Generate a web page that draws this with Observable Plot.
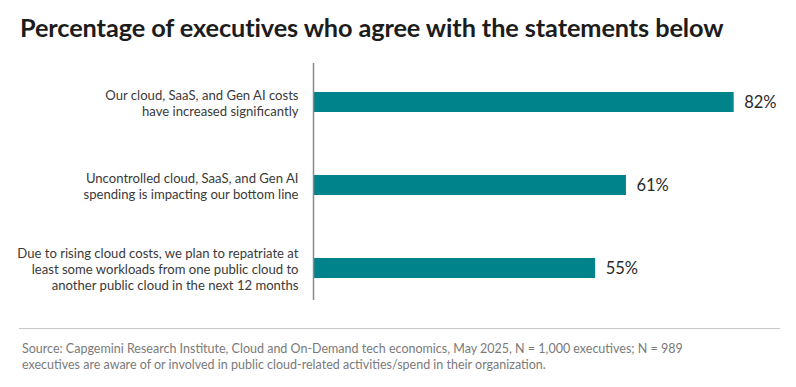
<!DOCTYPE html>
<html>
<head>
<meta charset="utf-8">
<script src="https://cdn.jsdelivr.net/npm/d3@7"></script>
<script src="https://cdn.jsdelivr.net/npm/@observablehq/plot@0.6"></script>
<style>
  html, body { margin: 0; padding: 0; background: #fff; }
  body { width: 796px; height: 387px; position: relative; overflow: hidden; font-family: Lato, "Open Sans", sans-serif; }
  #title { position: absolute; left: 20px; top: 15px; font-size: 25.3px; line-height: 24px; font-weight: 700; color: #1c1c1c; white-space: nowrap; letter-spacing: -0.1px; }
  #chart { position: absolute; left: 0; top: 50px; }
  #rule { position: absolute; left: 19px; top: 328px; width: 761px; height: 0; border-top: 1.5px solid #c9c9c9; }
  #source { position: absolute; left: 22px; top: 341px; font-size: 12.5px; line-height: 16px; color: #7a7a7a; white-space: nowrap; }
</style>
</head>
<body>
<div id="title">Percentage of executives who agree with the statements below</div>
<div id="chart"></div>
<div id="rule"></div>
<div id="source">Source: Capgemini Research Institute, Cloud and On-Demand tech economics, May 2025, N = 1,000 executives; N = 989<br>executives are aware of or involved in public cloud-related activities/spend in their organization.</div>
<script>
const statements = [
  "Our cloud, SaaS, and Gen AI costs\nhave increased significantly",
  "Uncontrolled cloud, SaaS, and Gen AI\nspending is impacting our bottom line",
  "Due to rising cloud costs, we plan to repatriate at\nleast some workloads from one public cloud to\nanother public cloud in the next 12 months"
];
const values = [82, 61, 55];
const valueLabels = ["82%", "61%", "55%"];

const data = statements.map((s, i) => ({statement: s, value: values[i], label: valueLabels[i]}));

const chart = Plot.plot({
  width: 796,
  height: 260,
  marginLeft: 313,
  marginRight: 0,
  marginTop: 13,
  marginBottom: 10,
  style: {fontFamily: "Lato, 'Open Sans', sans-serif", background: "transparent"},
  x: {domain: [0, 100], range: [313, 826], axis: null},
  y: {domain: statements, range: [9.25, 259.75], paddingInner: 0.76, paddingOuter: 0.38, axis: null},
  marks: [
    Plot.barX(data, {x: "value", y: "statement", fill: "#00838b"}),
    Plot.ruleX([0], {stroke: "#8a8a8a", strokeWidth: 1.5}),
    Plot.text(data, {x: 0, y: "statement", text: "statement", textAnchor: "end", dx: -15, fontSize: 13.1, lineHeight: 1.22, fill: "#3a3a3a"}),
    Plot.text(data, {x: "value", y: "statement", text: "label", textAnchor: "start", dx: 10, fontSize: 16.5, fill: "#2a2a2a"})
  ]
});
document.getElementById("chart").appendChild(chart);
</script>
</body>
</html>
